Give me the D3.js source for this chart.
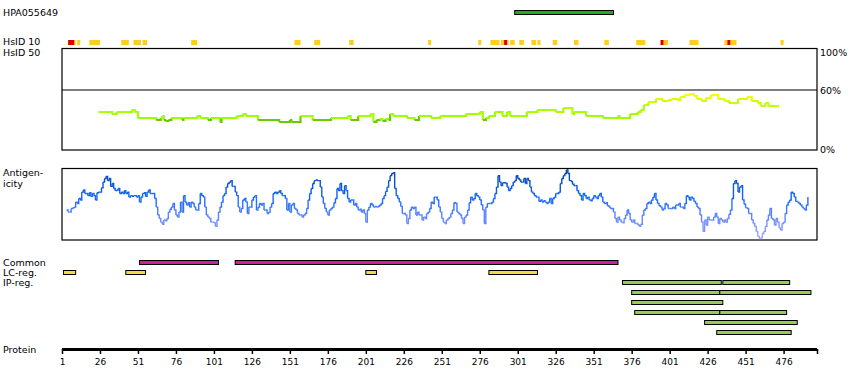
<!DOCTYPE html>
<html>
<head>
<meta charset="utf-8">
<script src="https://cdn.jsdelivr.net/npm/d3@7"></script>
<style>
  body { margin: 0; background: #fff; }
  text { font-family: "DejaVu Sans", sans-serif; font-size: 9.5px; fill: #000; }
</style>
</head>
<body>
<script>
// protein length and tick labels
var proteinLength = 498;
var tickResidues = [1, 26, 51, 76, 101, 126, 151, 176, 201, 226, 251, 276, 301, 326, 351, 376, 401, 426, 451, 476];

// antigen fragment
var antigenName = "HPA055649";
var antigenRange = [299, 364];

// HsID 10 hits [start, end]
var hsid10Yellow = [[8,9],[11,12],[19,25],[40,44],[48,52],[54,56],[86,89],[154,157],[167,170],[190,192],[242,243],
  [275,276],[283,288],[290,291],[294,294],[296,298],[302,304],[310,312],[314,315],[324,326],[338,340],[358,360],
  [379,384],[397,399],[414,419],[437,438],[441,444],[474,475]];
var hsid10Red = [[5,8],[292,293],[395,396],[439,440]];

// identity (% vs. closest paralog), [residue, percent]
var identity = [[25,38],[34,36],[37,38],[47,40],[49,38],[51,32],[63,30],[66,32],[67,34],[68,30],[69,29],[71,30],[73,32],
  [80,30],[81,32],[90,34],[92,32],[97,30],[99,32],[105,28],[106,32],[116,34],[120,36],[122,34],[130,30],[144,28],[151,30],
  [152,28],[158,34],[166,30],[178,32],[189,34],[191,30],[196,34],[204,36],[206,28],[208,30],[210,31],[212,29],[214,31],
  [216,30],[217,36],[219,34],[228,32],[233,30],[236,34],[244,32],[250,34],[267,36],[276,38],[278,30],[280,32],[282,34],
  [286,38],[291,34],[294,38],[296,34],[307,38],[314,40],[326,38],[331,42],[337,36],[338,38],[346,34],[357,32],[367,34],
  [368,32],[375,36],[380,38],[382,40],[384,45],[387,48],[392,51],[396,49],[400,50],[402,51],[406,50],[408,53],[411,55],
  [414,56],[417,54],[419,51],[422,49],[425,52],[428,55],[433,51],[437,49],[440,47],[446,51],[452,53],[455,49],[459,47],
  [461,44],[464,47],[466,44],[472,44]];

// antigenicity score per residue, starting at residue 4
var antigenStart = 4;
var antigenicity = [42,39,39,44,45,46,53,51,58,56, 67,70,65,65,62,66,61,65,62,56, 66,67,67,73,81,86,89,83,86,75,
  79,72,69,70,72,65,67,65,69,65, 67,60,62,61,62,62,60,62,53,60, 65,66,61,67,70,65,65,65,58,46,
  35,30,25,22,28,27,30,39,43,46, 51,42,35,32,39,53,39,62,53,49, 52,46,53,51,46,42,42,51,65,62,
  60,46,35,32,30,25,25,24,19,28, 39,46,53,62,65,74,79,81,83,75, 75,67,62,46,39,44,56,58,53,37,
  46,46,56,60,62,42,46,51,49,51, 42,42,37,39,46,51,65,67,65,67, 69,65,62,62,58,42,51,39,49,51,
  44,42,37,35,35,32,35,37,44,56, 65,72,79,83,84,83,83,74,60,51, 44,39,35,42,44,46,52,58,72,69,
  79,69,65,76,69,58,53,56,56,49, 51,46,42,43,39,42,37,25,42,46, 51,49,46,47,46,47,49,51,58,62,
  68,74,83,90,93,94,72,62,58,53, 47,37,37,35,23,30,42,46,44,46, 35,39,35,35,28,32,30,37,39,44,
  53,51,60,60,56,46,39,30,25,23, 28,30,32,37,42,52,51,39,37,35, 30,23,32,35,42,52,60,56,58,65,
  62,60,56,49,42,23,46,51,51,51, 53,58,65,74,90,81,76,80,80,79, 74,69,72,76,81,83,90,86,84,81,
  81,86,79,86,83,74,67,65,62,60, 60,54,56,53,55,53,51,53,58,51, 58,60,65,65,67,79,86,90,93,98,
  93,83,82,78,76,76,69,65,62,56, 65,62,58,60,56,55,58,62,60,58, 62,65,60,53,51,52,48,46,44,44,
  39,30,25,32,28,25,24,30,35,42, 37,28,25,28,23,23,21,19,22,35, 42,44,51,53,51,56,60,65,56,51,
  48,46,42,44,51,49,44,44,44,46, 44,49,49,51,46,46,44,51,62,60, 56,60,58,54,51,46,44,35,25,12,
  28,21,32,28,28,28,32,37,32,23, 30,28,25,28,25,30,36,42,58,79, 83,79,67,74,76,56,50,45,44,37,
  37,28,23,19,12,5,2,3,9,12, 19,28,35,44,30,28,21,30,25,17, 14,23,25,37,49,53,56,67,65,60,
  54,53,51,49,46,44,42,49,60];

// feature tracks [start, end]
var commonRegions = [[52,104],[115,367]];
var lcRegions = [[2,10],[43,56],[201,208],[282,314]];
var ipRows = [
  [[370,435],[436,480]],
  [[376,434],[434,494]],
  [[376,436]],
  [[378,434],[434,478]],
  [[424,485]],
  [[432,481]]
];

var svg = d3.select("body").append("svg")
    .attr("width", 850)
    .attr("height", 390);

var x = d3.scaleLinear().domain([1, proteinLength]).range([62, 817]);

function label(txt, lx, ly) {
    svg.append("text").attr("x", lx).attr("y", ly).text(txt);
}

// antigen bar
label(antigenName, 3, 16);
svg.append("rect")
    .attr("x", x(antigenRange[0])).attr("y", 10.5)
    .attr("width", x(antigenRange[1]) - x(antigenRange[0])).attr("height", 4)
    .attr("fill", "#22aa22").attr("stroke", "#000").attr("stroke-width", 1);

// HsID 10 strip
label("HsID 10", 3, 45);
label("HsID 50", 3, 56);
function hsidBlocks(data, color) {
    svg.append("g").selectAll("rect").data(data).enter().append("rect")
        .attr("x", function(d) { return x(d[0]); })
        .attr("y", 40)
        .attr("width", function(d) { return x(d[1] + 1) - x(d[0]); })
        .attr("height", 5)
        .attr("fill", color);
}
hsidBlocks(hsid10Yellow, "#ffcc22");
hsidBlocks(hsid10Red, "#dd0000");

// identity panel
var yId = d3.scaleLinear().domain([0, 100]).range([150, 50]);
svg.append("rect").attr("x", 62).attr("y", 48.5).attr("width", 755).attr("height", 101.5)
    .attr("fill", "none").attr("stroke", "#000").attr("stroke-width", 1.2);
svg.append("line").attr("x1", 62).attr("x2", 817).attr("y1", yId(60)).attr("y2", yId(60))
    .attr("stroke", "#000").attr("stroke-width", 1.2);
label("100%", 820, 56);
label("60%", 820, 94);
label("0%", 820, 153);

function idColor(v) {
    if (v <= 30) return "#66cc00";
    return d3.scaleLinear().domain([31, 40, 48, 56]).range(["#99ff00", "#aaff00", "#ccff00", "#ffff00"]).clamp(true)(v);
}
var stepLine = d3.line().curve(d3.curveStepAfter);
var idG = svg.append("g");
identity.forEach(function(d, i) {
    var next = identity[i + 1] || [d[0] + 1, d[1]];
    idG.append("path")
        .attr("d", stepLine([[x(d[0]), yId(d[1])], [x(next[0]), yId(next[1])]]))
        .attr("fill", "none")
        .attr("stroke", idColor(d[1]))
        .attr("stroke-width", 2.2);
});

// antigenicity panel
var yAg = d3.scaleLinear().domain([0, 100]).range([240, 168.5]);
svg.append("rect").attr("x", 62).attr("y", 168.5).attr("width", 755).attr("height", 71.5)
    .attr("fill", "none").attr("stroke", "#000").attr("stroke-width", 1.2);
label("Antigen-", 3, 176);
label("icity", 3, 187);
var agColor = d3.scaleLinear().domain([0, 30, 60, 95]).range(["#aaaaff", "#6688ff", "#1166ff", "#0044aa"]).clamp(true);
var agG = svg.append("g");
antigenicity.forEach(function(v, i) {
    if (i === antigenicity.length - 1) return;
    var r = antigenStart + i, v2 = antigenicity[i + 1];
    agG.append("path")
        .attr("d", stepLine([[x(r), yAg(v)], [x(r + 1), yAg(v2)]]))
        .attr("fill", "none")
        .attr("stroke", agColor((v + v2) / 2))
        .attr("stroke-width", 1.4);
});

// feature tracks
function track(data, yTop, color) {
    svg.append("g").selectAll("rect").data(data).enter().append("rect")
        .attr("x", function(d) { return x(d[0]); })
        .attr("y", yTop)
        .attr("width", function(d) { return x(d[1]) - x(d[0]); })
        .attr("height", 4)
        .attr("fill", color)
        .attr("stroke", "#000")
        .attr("stroke-width", 1);
}
label("Common", 3, 266);
label("LC-reg.", 3, 276);
label("IP-reg.", 3, 286);
track(commonRegions, 260.5, "#cc2299");
track(lcRegions, 270.5, "#eedd44");
ipRows.forEach(function(row, i) {
    track(row, 280.5 + i * 10, "#99cc55");
});

// protein axis
label("Protein", 3, 353);
svg.append("rect").attr("x", 62).attr("y", 348).attr("width", 755).attr("height", 3).attr("fill", "#000");
var axis = d3.axisBottom(x).tickValues(tickResidues.concat([proteinLength])).tickSize(5).tickFormat(function(d) {
    return tickResidues.indexOf(d) >= 0 ? d : "";
});
var ag = svg.append("g").attr("transform", "translate(0,349)").call(axis);
ag.select(".domain").remove();
ag.selectAll(".tick line").attr("stroke", "#000").attr("stroke-width", 1.5);
ag.selectAll(".tick text").attr("dy", 0).attr("y", 16).style("font-family", "DejaVu Sans, sans-serif").style("font-size", "9px");
</script>
</body>
</html>
